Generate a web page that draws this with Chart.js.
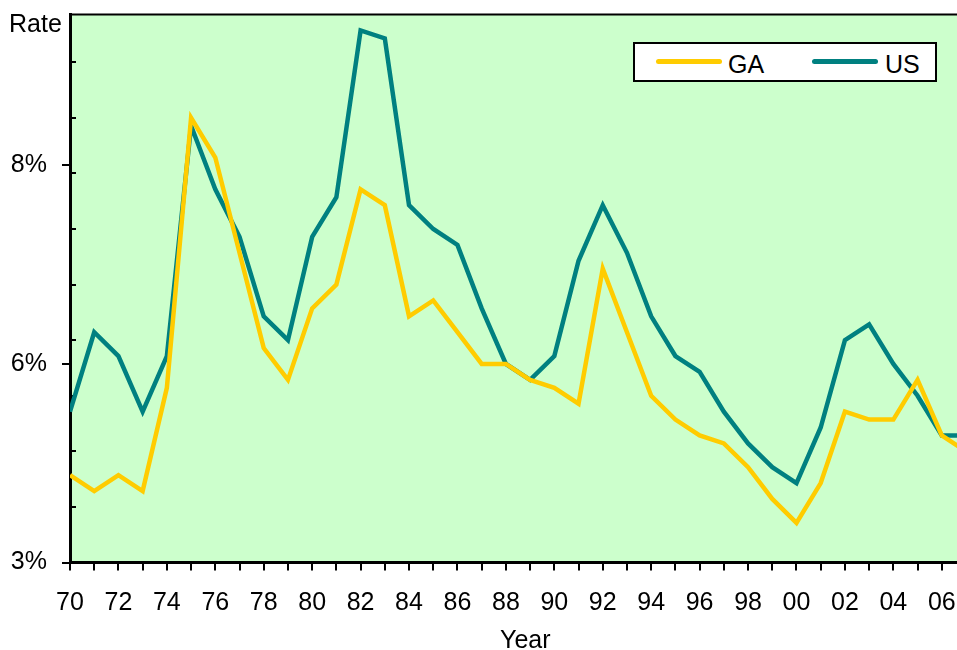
<!DOCTYPE html>
<html>
<head>
<meta charset="utf-8">
<script src="https://cdn.jsdelivr.net/npm/chart.js@4/dist/chart.umd.min.js"></script>
<style>
  html, body { margin: 0; padding: 0; overflow: hidden; background: #fff; width: 957px; height: 650px; }
  #wrap { position: relative; width: 957px; height: 650px; overflow: hidden; }
  #c { position: absolute; left: 0; top: 0; }
  .lbl { position: absolute; font-family: "Liberation Sans", Arial, sans-serif; font-size: 25px; line-height: 25px; color: #000; white-space: nowrap; }
  #legend { position: absolute; left: 633px; top: 42px; width: 304px; height: 40px; box-sizing: border-box; border: 2px solid #000; background: #fff; }
  .sw { position: absolute; height: 5px; border-radius: 2.5px; }
</style>
</head>
<body>
<div id="wrap">
  <canvas id="c" width="966" height="650" style="width:966px;height:650px"></canvas>
  <div class="lbl" style="left:9px;top:11px">Rate</div>
  <div class="lbl" style="left:500px;top:627px">Year</div>
  <div id="legend"></div>
</div>
<script>
// Annual unemployment rate (%), Georgia vs. United States
const years = [1970, 1971, 1972, 1973, 1974, 1975, 1976, 1977, 1978, 1979,
               1980, 1981, 1982, 1983, 1984, 1985, 1986, 1987, 1988, 1989,
               1990, 1991, 1992, 1993, 1994, 1995, 1996, 1997, 1998, 1999,
               2000, 2001, 2002, 2003, 2004, 2005, 2006, 2007];
const gaRate = [4.1, 3.9, 4.1, 3.9, 5.2, 8.6, 8.1, 6.9, 5.7, 5.3,
                6.2, 6.5, 7.7, 7.5, 6.1, 6.3, 5.9, 5.5, 5.5, 5.3,
                5.2, 5.0, 6.7, 5.9, 5.1, 4.8, 4.6, 4.5, 4.2, 3.8,
                3.5, 4.0, 4.9, 4.8, 4.8, 5.3, 4.6, 4.4];
const usRate = [4.9, 5.9, 5.6, 4.9, 5.6, 8.5, 7.7, 7.1, 6.1, 5.8,
                7.1, 7.6, 9.7, 9.6, 7.5, 7.2, 7.0, 6.2, 5.5, 5.3,
                5.6, 6.8, 7.5, 6.9, 6.1, 5.6, 5.4, 4.9, 4.5, 4.2,
                4.0, 4.7, 5.8, 6.0, 5.5, 5.1, 4.6, 4.6];
const seriesNames = ['GA', 'US'];
const seriesColors = ['#FFCC00', '#008080'];

// Axis ticks
const xTickLabels = ['70', '72', '74', '76', '78', '80', '82', '84', '86', '88',
                     '90', '92', '94', '96', '98', '00', '02', '04', '06'];
const yTickValues = [3, 5.5, 8];
const yTickLabels = ['3%', '6%', '8%'];
const yMinorTicks = [3.7, 4.4, 5.1, 5.8, 6.5, 7.2, 7.9, 8.6, 9.3];

const FONT = '"Liberation Sans", Arial, sans-serif';
Chart.defaults.font.family = FONT;
Chart.defaults.color = '#000';

const toPoints = vals => years.map((yr, i) => ({ x: yr, y: vals[i] }));

// Keep the plot area fixed: no extra room reserved for edge labels
const noEdgePadding = s => {
  s.paddingTop = 0; s.paddingBottom = 0; s.paddingLeft = 0; s.paddingRight = 0;
};

// Plot-area fill, top/right frame and the inward minor ticks on the value axis
const plotDecor = {
  id: 'plotDecor',
  beforeDraw(chart) {
    const { ctx, chartArea: a } = chart;
    ctx.save();
    ctx.fillStyle = '#CCFFCC';
    ctx.fillRect(a.left, a.top, a.right - a.left, a.bottom - a.top);
    ctx.restore();
  },
  beforeDatasetsDraw(chart) {
    const { ctx, chartArea: a, scales } = chart;
    ctx.save();
    ctx.strokeStyle = '#000';
    ctx.lineWidth = 2;
    ctx.beginPath();
    ctx.moveTo(a.left, a.top);
    ctx.lineTo(a.right, a.top);
    ctx.lineTo(a.right, a.bottom);
    ctx.stroke();
    ctx.beginPath();
    yMinorTicks.forEach(v => {
      const y = Math.round(scales.y.getPixelForValue(v));
      ctx.moveTo(a.left, y);
      ctx.lineTo(a.left + 6, y);
    });
    ctx.stroke();
    ctx.restore();
  }
};

new Chart(document.getElementById('c'), {
  type: 'line',
  data: {
    datasets: [
      { label: seriesNames[0], data: toPoints(gaRate), borderColor: seriesColors[0], borderWidth: 4.5,
        pointRadius: 0, tension: 0, fill: false },
      { label: seriesNames[1], data: toPoints(usRate), borderColor: seriesColors[1], borderWidth: 4.5,
        pointRadius: 0, tension: 0, fill: false }
    ]
  },
  options: {
    responsive: false,
    animation: false,
    events: [],
    layout: { padding: { top: 14.6, left: 0, right: 0, bottom: 0 } },
    plugins: { legend: { display: false }, tooltip: { enabled: false } },
    scales: {
      x: {
        type: 'linear', min: 1970, max: 2007,
        afterFit(s) { s.height = 87.5; noEdgePadding(s); },
        afterBuildTicks(s) { s.ticks = years.map(v => ({ value: v })); },
        grid: { drawOnChartArea: false, drawTicks: true, tickLength: 8, color: '#000', lineWidth: 2 },
        border: { display: true, color: '#000', width: 3 },
        ticks: {
          autoSkip: false, maxRotation: 0, minRotation: 0, padding: 18, color: '#000',
          font: { family: FONT, size: 25 },
          callback: v => ((v - years[0]) % 2 === 0 ? xTickLabels[(v - years[0]) / 2] : '')
        }
      },
      y: {
        type: 'linear', min: 3, max: 9.9,
        afterFit(s) { s.width = 70; noEdgePadding(s); },
        afterBuildTicks(s) { s.ticks = yTickValues.map(v => ({ value: v })); },
        grid: { drawOnChartArea: false, drawTicks: true, tickLength: 8, color: '#000', lineWidth: 2 },
        border: { display: true, color: '#000', width: 3 },
        ticks: {
          padding: 15, color: '#000', font: { family: FONT, size: 25 },
          callback: (v, i) => yTickLabels[i]
        }
      }
    }
  },
  plugins: [plotDecor]
});

// Legend box
const legend = document.getElementById('legend');
const swLeft = [21, 177], txtLeft = [93, 250];
seriesNames.forEach((name, i) => {
  const sw = document.createElement('div');
  sw.className = 'sw';
  sw.style.cssText = `left:${swLeft[i]}px;top:15px;width:66px;background:${seriesColors[i]}`;
  legend.appendChild(sw);
  const t = document.createElement('div');
  t.className = 'lbl';
  t.style.cssText = `left:${txtLeft[i]}px;top:8px`;
  t.textContent = name;
  legend.appendChild(t);
});
</script>
</body>
</html>
